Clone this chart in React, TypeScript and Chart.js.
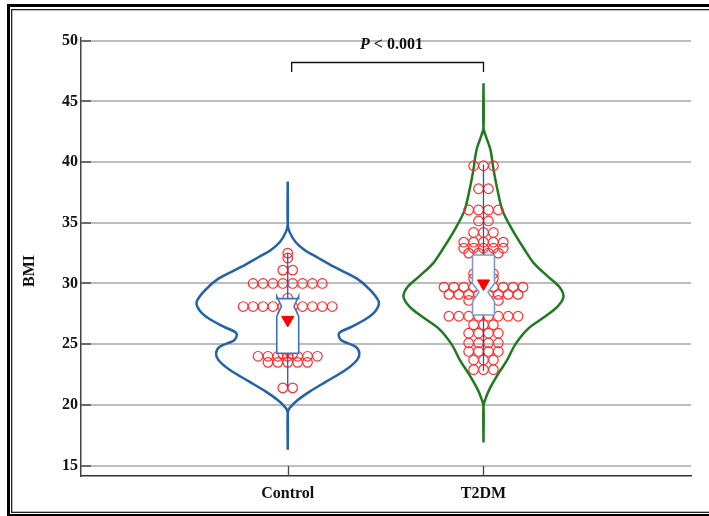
import React, { useEffect, useRef } from "react";
import { Chart, registerables } from "chart.js";

Chart.register(...registerables);

// ---------------- data ----------------
const categories = ["Control", "T2DM"];
const categoryPositions = [1, 2];
const yTickValues = [15, 20, 25, 30, 35, 40, 45, 50];
const yRange = [14.14, 50.22];
const xRange = [-0.056, 3.06];

const controlValues = [
  32.5, 32.1, 31.1, 31.1,
  30.0, 30.0, 30.0, 30.0, 30.0, 30.0, 30.0, 30.0,
  28.8,
  28.1, 28.1, 28.1, 28.1, 28.1, 28.1, 28.1, 28.1, 28.1, 28.1,
  27.5, 27.5,
  24.9, 24.5, 24.2, 24.2,
  24.0, 24.0, 24.0, 24.0, 24.0, 24.0, 24.0,
  23.5, 23.5, 23.5, 23.5, 23.5,
  21.4, 21.4,
];

const t2dmValues = [
  39.7, 39.7, 39.7,
  37.8, 37.8,
  36.05, 36.05, 36.05, 36.05,
  35.15, 35.15,
  34.2, 34.2, 34.2,
  33.4, 33.4, 33.4, 33.4, 33.4,
  32.9, 32.9, 32.9, 32.9, 32.9,
  32.5, 32.5, 32.5, 32.5,
  31.7, 31.2, 31.2,
  30.8, 30.8, 30.8,
  30.4, 30.4, 30.4,
  29.7, 29.7, 29.7, 29.7, 29.7, 29.7, 29.7, 29.7, 29.7,
  29.1, 29.1, 29.1, 29.1, 29.1, 29.1, 29.1, 29.1,
  28.6, 28.6, 28.6, 28.6,
  27.3, 27.3, 27.3, 27.3, 27.3, 27.3, 27.3, 27.3,
  26.6, 26.6, 26.6,
  25.9, 25.9, 25.9, 25.9,
  25.1, 25.1, 25.1, 25.1,
  24.4, 24.4, 24.4, 24.4,
  23.7, 23.7, 23.7,
  22.9, 22.9, 22.9,
];

// violin outline: BMI level and half-width (in category units)
const controlViolinLevels = [
  16.3, 19.3, 19.72, 20.4, 21.09, 21.91, 22.87, 23.7, 24.25, 24.8, 25.35, 25.9,
  26.44, 27.13, 27.82, 28.5, 29.46, 30.42, 31.38, 32.16, 32.76, 33.44, 34.27, 34.9, 38.4,
];
const controlViolinHalfWidths = [
  0, 0, 0.0087, 0.051, 0.112, 0.196, 0.295, 0.354, 0.366, 0.346, 0.272, 0.262,
  0.328, 0.405, 0.452, 0.465, 0.422, 0.352, 0.235, 0.150, 0.086, 0.039, 0.0087, 0, 0,
];
const t2dmViolinLevels = [
  16.9, 19.9, 20.5, 21.3, 22.6, 23.6, 25.0, 26.3, 27.3, 28.1, 28.9, 29.7,
  30.6, 31.7, 32.8, 34.4, 36.0, 37.7, 39.4, 41.0, 42.1, 42.8, 46.5,
];
const t2dmViolinHalfWidths = [
  0, 0, 0.0102, 0.0306, 0.0766, 0.1175, 0.1634, 0.2298, 0.3166, 0.3779, 0.4086, 0.3881,
  0.3269, 0.2554, 0.2094, 0.1481, 0.097, 0.0715, 0.0511, 0.0358, 0.0128, 0, 0,
];

// box-plot statistics (per category)
const boxQ1 = [24.25, 27.4];
const boxQ3 = [28.75, 32.35];
const boxMedian = [28.1, 29.3];
const notchLow = [27.3, 28.5];
const notchHigh = [28.95, 30.0];
const meanValues = [27.0, 30.0];
const whiskerLow = [21.4, 22.8];
const whiskerHigh = [32.5, 39.8];

// significance annotation
const annotationText = ["P", " < 0.001"];
const bracketX = [1.02, 2.0];
const bracketY = [48.25, 47.42];
const annotationPos = [1.53, 49.29];

// ---------------- styles ----------------
const SERIF = "'Liberation Serif', 'Times New Roman', serif";
const violinColors = ["#2262a6", "#1f7a1f"];
const boxColors = ["#3e72b8", "#7a9bcc"];
const whiskerColor = "#2457a5";
const pointColor = "rgb(255,45,45)";
const SWARM_STEP = 0.0505;
const BOX_HALF = 0.056;
const NOTCH_HALF = [0.032, 0.023];
const MEAN_INDEX = 4;

function violinOutline(center: number, levels: number[], widths: number[]) {
  const left = levels.map((v, i) => ({ x: center - widths[i], y: v }));
  const right = levels.map((v, i) => ({ x: center + widths[i], y: v })).reverse();
  return [...left, ...right];
}

function swarm(center: number, values: number[]) {
  const counts = new Map<number, number>();
  const seen = new Map<number, number>();
  values.forEach((v) => counts.set(v, (counts.get(v) || 0) + 1));
  return values.map((v) => {
    const n = counts.get(v) || 1;
    const k = seen.get(v) || 0;
    seen.set(v, k + 1);
    return { x: center + (k - (n - 1) / 2) * SWARM_STEP, y: v };
  });
}

const overlayPlugin = {
  id: "overlay",
  beforeDatasetDraw(chart: any, args: any) {
    if (args.index !== MEAN_INDEX) return;
    const { ctx } = chart;
    const x = chart.scales.x;
    const y = chart.scales.y;
    categoryPositions.forEach((c, i) => {
      const px = x.getPixelForValue(c);
      ctx.save();
      ctx.strokeStyle = whiskerColor;
      ctx.lineWidth = 1.3;
      ctx.beginPath();
      ctx.moveTo(px, y.getPixelForValue(whiskerLow[i]));
      ctx.lineTo(px, y.getPixelForValue(whiskerHigh[i]));
      ctx.stroke();

      const xl = x.getPixelForValue(c - BOX_HALF);
      const xr = x.getPixelForValue(c + BOX_HALF);
      const wl = x.getPixelForValue(c - NOTCH_HALF[i]);
      const wr = x.getPixelForValue(c + NOTCH_HALF[i]);
      const yq1 = y.getPixelForValue(boxQ1[i]);
      const yq3 = y.getPixelForValue(boxQ3[i]);
      const ym = y.getPixelForValue(boxMedian[i]);
      const ynl = y.getPixelForValue(notchLow[i]);
      const ynh = y.getPixelForValue(notchHigh[i]);
      ctx.beginPath();
      ctx.moveTo(xl, yq1);
      ctx.lineTo(xl, ynl);
      ctx.lineTo(wl, ym);
      ctx.lineTo(xl, ynh);
      ctx.lineTo(xl, yq3);
      ctx.lineTo(xr, yq3);
      ctx.lineTo(xr, ynh);
      ctx.lineTo(wr, ym);
      ctx.lineTo(xr, ynl);
      ctx.lineTo(xr, yq1);
      ctx.closePath();
      ctx.fillStyle = "#ffffff";
      ctx.fill();
      ctx.strokeStyle = boxColors[i];
      ctx.lineWidth = 1.6;
      ctx.lineJoin = "miter";
      ctx.stroke();
      ctx.restore();
    });
  },
  afterDraw(chart: any) {
    const { ctx, chartArea } = chart;
    const x = chart.scales.x;
    const y = chart.scales.y;
    ctx.save();

    // inner tick marks
    ctx.strokeStyle = "#6a6a6a";
    ctx.lineWidth = 2;
    yTickValues.forEach((v) => {
      const py = Math.round(y.getPixelForValue(v));
      ctx.beginPath();
      ctx.moveTo(chartArea.left, py);
      ctx.lineTo(chartArea.left + 10, py);
      ctx.stroke();
    });
    ctx.strokeStyle = "#444";
    ctx.lineWidth = 1.3;
    categoryPositions.forEach((c) => {
      const px = Math.round(x.getPixelForValue(c)) + 0.5;
      ctx.beginPath();
      ctx.moveTo(px, chartArea.bottom);
      ctx.lineTo(px, chartArea.bottom - 10);
      ctx.stroke();
    });

    // y axis title
    ctx.fillStyle = "#111";
    ctx.font = `bold 16px ${SERIF}`;
    ctx.textAlign = "center";
    ctx.textBaseline = "middle";
    ctx.translate(30, (chartArea.top + chartArea.bottom) / 2 + 14);
    ctx.rotate(-Math.PI / 2);
    ctx.fillText("BMI", 0, 0);
    ctx.setTransform(1, 0, 0, 1, 0, 0);

    // bracket
    const bx1 = x.getPixelForValue(bracketX[0]);
    const bx2 = x.getPixelForValue(bracketX[1]);
    const by = Math.round(y.getPixelForValue(bracketY[0])) + 0.5;
    const byEnd = y.getPixelForValue(bracketY[1]);
    ctx.strokeStyle = "#111";
    ctx.lineWidth = 1.3;
    ctx.beginPath();
    ctx.moveTo(bx1, byEnd);
    ctx.lineTo(bx1, by);
    ctx.lineTo(bx2, by);
    ctx.lineTo(bx2, byEnd);
    ctx.stroke();

    // annotation text
    const tx = x.getPixelForValue(annotationPos[0]);
    const ty = y.getPixelForValue(annotationPos[1]);
    const f1 = `italic bold 16px ${SERIF}`;
    const f2 = `bold 16px ${SERIF}`;
    ctx.font = f1;
    const w1 = ctx.measureText(annotationText[0]).width;
    ctx.font = f2;
    const w2 = ctx.measureText(annotationText[1]).width;
    const start = tx - (w1 + w2) / 2;
    ctx.textAlign = "left";
    ctx.textBaseline = "alphabetic";
    ctx.fillStyle = "#111";
    ctx.font = f1;
    ctx.fillText(annotationText[0], start, ty);
    ctx.font = f2;
    ctx.fillText(annotationText[1], start + w1, ty);

    // double frame
    ctx.fillStyle = "#000";
    ctx.fillRect(7, 4, 709, 3);
    ctx.fillRect(7, 4, 3, 520);
    ctx.fillRect(7, 514, 709, 3);
    ctx.fillStyle = "#222";
    ctx.fillRect(11, 9, 709, 1.3);
    ctx.fillRect(11, 9, 1.3, 504);
    ctx.fillRect(11, 511.7, 709, 1.3);
    ctx.restore();
  },
};

export default function App() {
  const canvasRef = useRef<HTMLCanvasElement | null>(null);

  useEffect(() => {
    const canvas = canvasRef.current;
    if (!canvas) return;
    const chart = new Chart(canvas, {
      type: "scatter",
      data: {
        datasets: [
          {
            label: "Control violin",
            data: violinOutline(categoryPositions[0], controlViolinLevels, controlViolinHalfWidths),
            showLine: true,
            borderColor: violinColors[0],
            borderWidth: 2.5,
            pointRadius: 0,
            tension: 0.3,
            fill: false,
            order: 5,
          },
          {
            label: "T2DM violin",
            data: violinOutline(categoryPositions[1], t2dmViolinLevels, t2dmViolinHalfWidths),
            showLine: true,
            borderColor: violinColors[1],
            borderWidth: 2.5,
            pointRadius: 0,
            tension: 0.3,
            fill: false,
            order: 5,
          },
          {
            label: "Control",
            data: swarm(categoryPositions[0], controlValues),
            pointStyle: "circle",
            pointRadius: 4.8,
            borderColor: pointColor,
            backgroundColor: "rgba(0,0,0,0)",
            borderWidth: 1.2,
            order: 3,
          },
          {
            label: "T2DM",
            data: swarm(categoryPositions[1], t2dmValues),
            pointStyle: "circle",
            pointRadius: 4.8,
            borderColor: pointColor,
            backgroundColor: "rgba(0,0,0,0)",
            borderWidth: 1.2,
            order: 3,
          },
          {
            label: "Mean",
            data: categoryPositions.map((c, i) => ({ x: c, y: meanValues[i] })),
            pointStyle: "triangle",
            rotation: 180,
            pointRadius: 7,
            backgroundColor: "#ff0000",
            borderColor: "#ff0000",
            borderWidth: 1,
            order: 1,
          },
        ],
      },
      options: {
        responsive: false,
        animation: false,
        events: [],
        layout: { padding: { top: 38, right: 18, left: 0, bottom: 0 } },
        plugins: { legend: { display: false }, tooltip: { enabled: false } },
        scales: {
          x: {
            type: "linear",
            min: xRange[0],
            max: xRange[1],
            afterBuildTicks: (scale: any) => {
              scale.ticks = categoryPositions.map((v) => ({ value: v }));
            },
            afterFit: (scale: any) => {
              scale.height = 40;
            },
            ticks: {
              autoSkip: false,
              maxRotation: 0,
              padding: 8,
              color: "#111",
              font: { family: SERIF, size: 16, weight: "bold" },
              callback: (value: any) => {
                const idx = categoryPositions.indexOf(Number(value));
                return idx >= 0 ? categories[idx] : "";
              },
            },
            grid: { display: false, drawTicks: false },
            border: { display: true, color: "#333", width: 1.5 },
          },
          y: {
            type: "linear",
            min: yRange[0],
            max: yRange[1],
            afterBuildTicks: (scale: any) => {
              scale.ticks = yTickValues.map((v) => ({ value: v }));
            },
            afterFit: (scale: any) => {
              scale.width = 81;
            },
            ticks: {
              padding: 3,
              color: "#111",
              font: { family: SERIF, size: 16, weight: "bold" },
              callback: (value: any) => String(value),
            },
            grid: { display: true, drawTicks: false, color: "#bdbdbd", lineWidth: 2 },
            border: { display: true, color: "#444", width: 1.5 },
          },
        },
      },
      plugins: [overlayPlugin],
    });
    return () => chart.destroy();
  }, []);

  return (
    <div style={{ position: "fixed", left: 0, top: 0, width: 709, height: 516, background: "#fff" }}>
      <canvas ref={canvasRef} width={709} height={516} style={{ display: "block", width: 709, height: 516 }} />
    </div>
  );
}
